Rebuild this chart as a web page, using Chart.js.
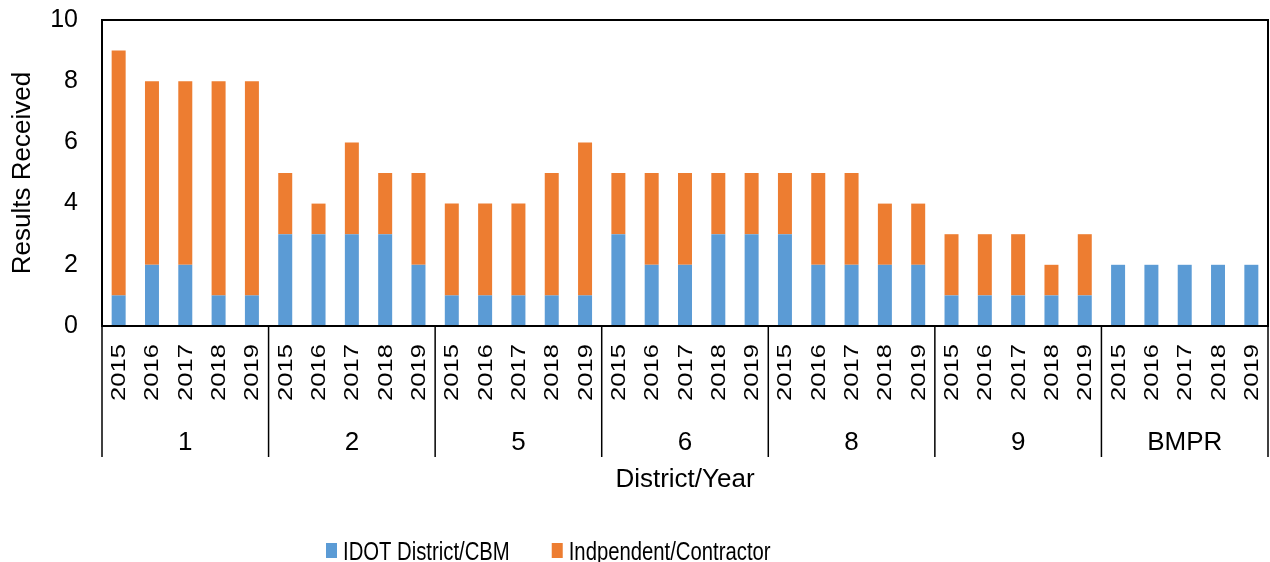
<!DOCTYPE html>
<html>
<head>
<meta charset="utf-8">
<script src="https://cdn.jsdelivr.net/npm/chart.js@4.4.0/dist/chart.umd.min.js"></script>
<style>
  html, body { margin: 0; padding: 0; background: #fff; }
  #wrap { width: 1270px; height: 562px; }
</style>
</head>
<body>
<div id="wrap"><canvas id="chart" width="1270" height="562"></canvas></div>
<script>
var years = ["2015", "2016", "2017", "2018", "2019"];
var districts = ["1", "2", "5", "6", "8", "9", "BMPR"];
var idotValues = [1, 2, 2, 1, 1, 3, 3, 3, 3, 2, 1, 1, 1, 1, 1, 3, 2, 2, 3, 3, 3, 2, 2, 2, 2, 1, 1, 1, 1, 1, 2, 2, 2, 2, 2];
var contractorValues = [8, 6, 6, 7, 7, 2, 1, 3, 2, 3, 3, 3, 3, 4, 5, 2, 3, 3, 2, 2, 2, 3, 3, 2, 2, 2, 2, 2, 1, 2, 0, 0, 0, 0, 0];
var yTicks = [0, 2, 4, 6, 8, 10];

var fontName = "'Liberation Sans', Arial, sans-serif";

var labels = [];
districts.forEach(function(d) {
    years.forEach(function(y) {
        labels.push(y);
    });
});

// draws frame, year labels, district groups, x title and legend
var extras = {
    id: "extras",
    afterDraw: function(chart) {
        var ctx = chart.ctx;
        var area = chart.chartArea;
        var x = chart.scales.x;
        var lineBottom = 457;
        ctx.save();
        ctx.strokeStyle = "#000";
        ctx.lineWidth = 2;
        ctx.strokeRect(area.left, area.top, area.right - area.left, area.bottom - area.top);

        // year labels, rotated, a bit stretched like the original
        ctx.fillStyle = "#000";
        ctx.font = "20px " + fontName;
        ctx.textAlign = "right";
        ctx.textBaseline = "middle";
        labels.forEach(function(lab, i) {
            ctx.save();
            ctx.translate(x.getPixelForValue(i), area.bottom + 18);
            ctx.rotate(-Math.PI / 2);
            ctx.scale(1.28, 1);
            ctx.fillText(lab, 0, 1);
            ctx.restore();
        });

        var n = years.length;
        ctx.lineWidth = 1.5;
        ctx.font = "26px " + fontName;
        ctx.textAlign = "center";
        for (var i = 0; i < districts.length; i++) {
            var first = i * n;
            var last = first + n - 1;
            var left = i == 0 ? area.left : (x.getPixelForValue(first - 1) + x.getPixelForValue(first)) / 2;
            var right = i == districts.length - 1 ? area.right : (x.getPixelForValue(last) + x.getPixelForValue(last + 1)) / 2;
            ctx.beginPath();
            ctx.moveTo(left, area.bottom);
            ctx.lineTo(left, lineBottom);
            ctx.stroke();
            if (i == districts.length - 1) {
                ctx.beginPath();
                ctx.moveTo(right, area.bottom);
                ctx.lineTo(right, lineBottom);
                ctx.stroke();
            }
            ctx.fillText(districts[i], (x.getPixelForValue(first) + x.getPixelForValue(last)) / 2, 443);
        }

        ctx.fillText("District/Year", (area.left + area.right) / 2, 480);

        // legend, narrow text as in the original
        var lx = 326;
        ctx.textAlign = "left";
        ctx.textBaseline = "alphabetic";
        chart.data.datasets.forEach(function(ds) {
            ctx.fillStyle = ds.backgroundColor;
            ctx.fillRect(lx, 543, 11, 15);
            ctx.fillStyle = "#000";
            ctx.save();
            ctx.translate(lx + 17, 560);
            ctx.scale(0.78, 1);
            ctx.fillText(ds.label, 0, 0);
            ctx.restore();
            lx += 17 + ctx.measureText(ds.label).width * 0.78 + 42;
        });
        ctx.restore();
    }
};

new Chart(document.getElementById("chart"), {
    type: "bar",
    data: {
        labels: labels,
        datasets: [{
            label: "IDOT District/CBM",
            data: idotValues,
            backgroundColor: "#5B9BD5",
            categoryPercentage: 1,
            barPercentage: 0.42
        }, {
            label: "Indpendent/Contractor",
            data: contractorValues,
            backgroundColor: "#ED7D31",
            categoryPercentage: 1,
            barPercentage: 0.42
        }]
    },
    options: {
        responsive: false,
        animation: false,
        layout: { padding: { top: 20, right: 2, left: 0, bottom: 0 } },
        plugins: {
            legend: { display: false },
            tooltip: { enabled: false }
        },
        scales: {
            x: {
                stacked: true,
                grid: { display: false, drawTicks: false },
                border: { display: false },
                ticks: { display: false },
                afterFit: function(scale) {
                    scale.height = 236;
                    scale.paddingLeft = 0;
                    scale.paddingRight = 0;
                }
            },
            y: {
                stacked: true,
                min: 0,
                max: 10,
                afterBuildTicks: function(scale) {
                    scale.ticks = yTicks.map(function(v) { return { value: v }; });
                },
                grid: { display: false, drawTicks: false },
                border: { display: false },
                ticks: {
                    padding: 24,
                    color: "#000",
                    font: { family: fontName, size: 25 }
                },
                title: {
                    display: true,
                    text: "Results Received",
                    color: "#000",
                    padding: { top: 7, bottom: 0 },
                    font: { family: fontName, size: 26 }
                },
                afterFit: function(scale) {
                    scale.width = 102;
                    scale.paddingTop = 0;
                    scale.paddingBottom = 0;
                }
            }
        }
    },
    plugins: [extras]
});
</script>
</body>
</html>
